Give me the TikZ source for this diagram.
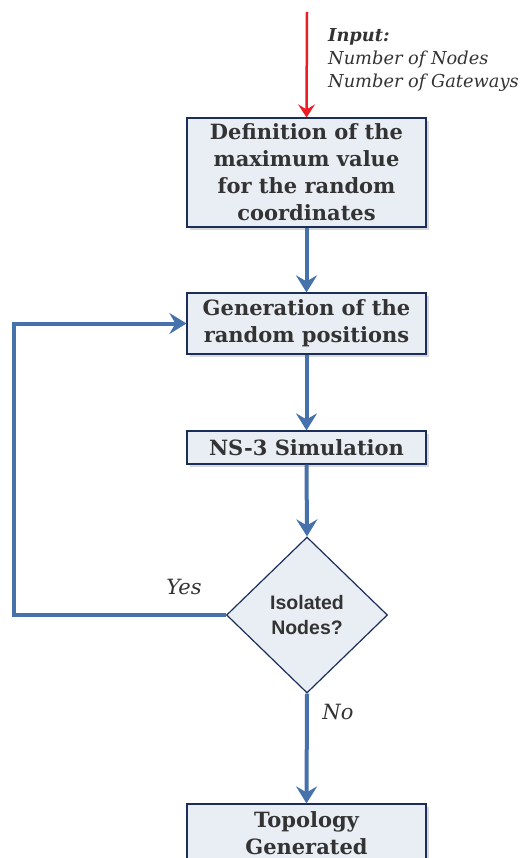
\documentclass[tikz,border=0pt]{standalone}
\usepackage{fontspec}
\setmainfont{DejaVu Serif}
\newfontfamily\labelsans{Liberation Sans}
\usetikzlibrary{arrows.meta,shapes.geometric,shadows}
\definecolor{boxfill}{HTML}{E9EEF5}
\definecolor{boxline}{HTML}{1B2E5A}
\definecolor{flow}{HTML}{4672AB}
\definecolor{txt}{HTML}{333333}
\definecolor{inred}{HTML}{EE1C25}
\tikzset{
  stepbox/.style={draw=boxline, line width=1.2pt, fill=boxfill, text=txt,
    minimum width=239pt, align=center, inner sep=0pt,
    font=\bfseries\fontsize{21}{27}\selectfont,
    drop shadow={shadow xshift=3pt, shadow yshift=-3pt, fill=black!25, opacity=0.6}},
  decision/.style={diamond, draw=boxline, line width=1.2pt, fill=boxfill, text=txt,
    minimum width=161pt, minimum height=156pt, aspect=1, inner sep=0pt,
    align=center, font=\labelsans\bfseries\fontsize{19.5}{25}\selectfont},
  flowline/.style={draw=flow, line width=4pt,
    -{Stealth[length=17pt,width=21pt,inset=6pt]}},
  inputline/.style={draw=inred, line width=2.5pt,
    -{Stealth[length=13pt,width=17pt,inset=5pt]}},
  lbl/.style={text=txt, font=\itshape\fontsize{17.8}{23}\selectfont, inner sep=0pt},
  branch/.style={text=txt, font=\itshape\fontsize{21}{25}\selectfont, inner sep=0pt},
}
\begin{document}
\begin{tikzpicture}[x=1pt,y=-1pt]
\useasboundingbox (0,0) rectangle (522,858);

% process steps
\node[stepbox, minimum height=109pt] (def) at (306.5,172.5)
  {Definition of the\\maximum value\\for the random\\coordinates};
\node[stepbox, minimum height=61pt] (gen) at (306.5,323.5)
  {Generation of the\\random positions};
\node[stepbox, minimum height=33pt] (sim) at (306.5,447.5)
  {NS-3 Simulation};
\node[decision] (iso) at (307,615) {Isolated\\Nodes?};
\node[stepbox, minimum height=58pt] (top) at (306.5,833)
  {Topology\\Generated};

% input
\coordinate (in) at (307,12);
\draw[inputline] (in) -- (def.north);
\node[lbl, anchor=north west, align=left] (inputtxt) at (328,28)
  {\textbf{Input:}\\Number of Nodes\\Number of Gateways};

% flow connectors
\draw[flowline] (def.south) -- (gen.north);
\draw[flowline] (gen.south) -- (sim.north);
\draw[flowline] (sim.south) -- (iso.north);
\draw[flowline] (iso.south) -- (top.north);
\coordinate (loopbot) at (14,615);
\coordinate (looptop) at (14,323.5);
\draw[flowline] (iso.west) -- (loopbot) -- (looptop) -- (gen.west);

\node[branch] (yes) at (184,587) {Yes};
\node[branch] (no) at (338,712) {No};
\end{tikzpicture}
\end{document}
